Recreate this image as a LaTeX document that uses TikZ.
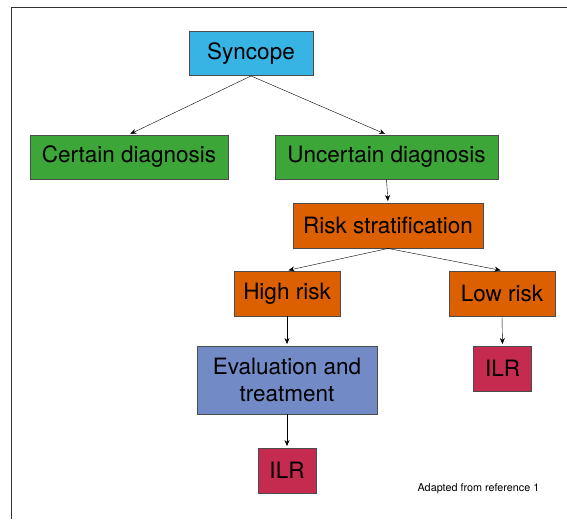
\documentclass[tikz,border=0pt]{standalone}
\usepackage{fontspec}
\setmainfont{TeX Gyre Heros}
\usetikzlibrary{arrows.meta}

\definecolor{syncblue}{RGB}{55,180,228}
\definecolor{diaggreen}{RGB}{61,166,57}
\definecolor{riskorange}{RGB}{221,96,0}
\definecolor{evalblue}{RGB}{114,138,198}
\definecolor{ilrred}{RGB}{196,43,79}

\begin{document}
\begin{tikzpicture}
  [x=1pt, y=-1pt,
    BoxNode/.style={rectangle, draw=black!70, line width=0.9pt, inner sep=0pt, align=center,
      font=\fontsize{22.5}{27}\selectfont, minimum height=44pt},
    RootNode/.style={BoxNode, fill=syncblue},
    DiagNode/.style={BoxNode, fill=diaggreen},
    RiskNode/.style={BoxNode, fill=riskorange},
    CareNode/.style={BoxNode, fill=evalblue},
    ILRNode/.style={BoxNode, fill=ilrred, minimum width=58pt},
    Link/.style={-{Stealth[length=6pt,width=5pt]}, thin, shorten >=1.5pt}]
  \useasboundingbox (0,0) rectangle (567,519);
  \draw[black!80, line width=1pt] (11,519) -- (11,8) -- (567,8);

  \node [RootNode, minimum width=124pt] (syncope) at (251,53.5) {Syncope};
  \node [DiagNode, minimum width=198pt] (certain) at (129,157) {Certain diagnosis};
  \node [DiagNode, minimum width=223pt] (uncertain) at (386.5,157) {Uncertain diagnosis};
  \node [RiskNode, minimum width=190pt, minimum height=45pt] (strat) at (388,225.5) {Risk stratification};
  \node [RiskNode, minimum width=106pt, minimum height=45pt] (high) at (287,293.5) {High risk};
  \node [RiskNode, minimum width=106pt, minimum height=45pt] (low) at (502,293.5) {Low risk};
  \node [CareNode, minimum width=180pt, minimum height=68pt] (eval) at (287,380) {Evaluation and\\treatment};
  \node [ILRNode, minimum height=45pt] (ilrhigh) at (287,470.5) {ILR};
  \node [ILRNode, minimum height=45pt] (ilrlow) at (502.5,368.5) {ILR};
  \node [font=\fontsize{10.8}{13}\selectfont, inner sep=0pt] (source) at (478.5,489) {Adapted from reference 1};

  \draw [Link] (syncope.south) -- (certain.north);
  \draw [Link] (syncope.south) -- (uncertain.north);
  \draw [Link] (uncertain.south) -- (strat.north);
  \draw [Link] (strat.south) -- (high.north);
  \draw [Link] (strat.south) -- (low.north);
  \draw [Link] (high.south) -- (eval.north);
  \draw [Link] (low.south) -- (ilrlow.north);
  \draw [Link] (eval.south) -- (ilrhigh.north);
\end{tikzpicture}
\end{document}
